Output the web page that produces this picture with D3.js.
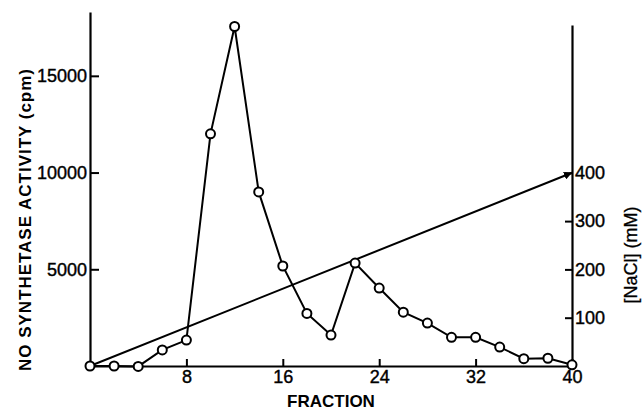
<!DOCTYPE html>
<html>
<head>
<meta charset="utf-8">
<script src="https://cdn.jsdelivr.net/npm/d3@7"></script>
<style>
  body { margin: 0; background: #fff; }
  svg { display: block; }
  .tick text { font-family: "Liberation Sans", sans-serif; font-size: 18px; fill: #000; stroke: #000; stroke-width: 0.4px; }
</style>
</head>
<body>
<svg></svg>
<script>
// fractions collected and the activity measured in each (cpm)
let fractions = [0, 2, 4, 6, 8, 10, 12, 14, 16, 18, 20, 22, 24, 26, 28, 30, 32, 34, 36, 38, 40];
let activity = [0, 0, -20, 830, 1340, 12000, 17550, 9000, 5170, 2720, 1600, 5320, 4030, 2780, 2220, 1480, 1480, 980, 380, 400, 60];

// salt gradient, fraction -> [NaCl] mM
let gradFraction = [0, 40];
let gradNaCl = [0, 400];

let xTicks = [8, 16, 24, 32, 40];
let yTicks = [5000, 10000, 15000];
let naclTicks = [100, 200, 300, 400];

let w = 644;
let h = 413;

let svg = d3.select('svg')
    .attr('width', w)
    .attr('height', h)

let xScale = d3.scaleLinear()
    .domain([0, 40])
    .range([90, 572])

let yScale = d3.scaleLinear()
    .domain([0, 18300])
    .range([366, 12])

let naclScale = d3.scaleLinear()
    .domain([0, 706])
    .range([366, 25])

let styleAxis = (g) => {
    g.select('.domain').attr('stroke-width', 2.2)
    g.selectAll('.tick line').attr('stroke-width', 2)
}

// axes
svg.append('g')
    .attr('transform', 'translate(0,' + yScale(0) + ')')
    .call(d3.axisBottom(xScale).tickValues(xTicks).tickFormat(d3.format('d')).tickSizeInner(-7).tickSizeOuter(0).tickPadding(4))
    .call(styleAxis)

svg.append('g')
    .attr('transform', 'translate(' + xScale(0) + ',0)')
    .call(d3.axisLeft(yScale).tickValues(yTicks).tickFormat(d3.format('d')).tickSizeInner(-9).tickSizeOuter(0).tickPadding(3))
    .call(styleAxis)

svg.append('g')
    .attr('transform', 'translate(' + xScale(40) + ',0)')
    .call(d3.axisRight(naclScale).tickValues(naclTicks).tickFormat(d3.format('d')).tickSizeInner(-7).tickSizeOuter(0).tickPadding(3))
    .call(styleAxis)

// arrow head for the gradient line
svg.append('defs').append('marker')
    .attr('id', 'arrow')
    .attr('viewBox', '0 0 10 10')
    .attr('refX', 10)
    .attr('refY', 5)
    .attr('markerWidth', 4)
    .attr('markerHeight', 4)
    .attr('orient', 'auto')
    .append('path')
    .attr('d', 'M0,0 L10,5 L0,10 z')
    .attr('fill', '#000')

let gradData = gradFraction.map((f, i) => [f, gradNaCl[i]])

svg.append('path')
    .datum(gradData)
    .attr('fill', 'none')
    .attr('stroke', '#000')
    .attr('stroke-width', 2)
    .attr('marker-end', 'url(#arrow)')
    .attr('d', d3.line().x(d => xScale(d[0])).y(d => naclScale(d[1])))

let actData = fractions.map((f, i) => [f, activity[i]])

svg.append('path')
    .datum(actData)
    .attr('fill', 'none')
    .attr('stroke', '#000')
    .attr('stroke-width', 2)
    .attr('d', d3.line().x(d => xScale(d[0])).y(d => yScale(d[1])))

svg.selectAll('circle')
    .data(actData)
    .enter()
    .append('circle')
    .attr('cx', d => xScale(d[0]))
    .attr('cy', d => yScale(d[1]))
    .attr('r', 4.5)
    .attr('fill', '#fff')
    .attr('stroke', '#000')
    .attr('stroke-width', 2)

// axis titles
svg.append('text')
    .attr('x', (xScale(0) + xScale(40)) / 2)
    .attr('y', 407)
    .attr('text-anchor', 'middle')
    .attr('font-family', 'Liberation Sans, sans-serif')
    .attr('font-weight', 'bold')
    .attr('font-size', 17)
    .text('FRACTION')

svg.append('text')
    .attr('transform', 'translate(31,220) rotate(-90)')
    .attr('text-anchor', 'middle')
    .attr('font-family', 'Liberation Sans, sans-serif')
    .attr('font-weight', 'bold')
    .attr('font-size', 17)
    .attr('textLength', 302)
    .attr('lengthAdjust', 'spacing')
    .text('NO SYNTHETASE ACTIVITY (cpm)')

svg.append('text')
    .attr('transform', 'translate(637,255) rotate(-90)')
    .attr('text-anchor', 'middle')
    .attr('font-family', 'Liberation Sans, sans-serif')
    .attr('font-size', 18)
    .attr('stroke', '#000')
    .attr('stroke-width', 0.3)
    .text('[NaCl] (mM)')
</script>
</body>
</html>
